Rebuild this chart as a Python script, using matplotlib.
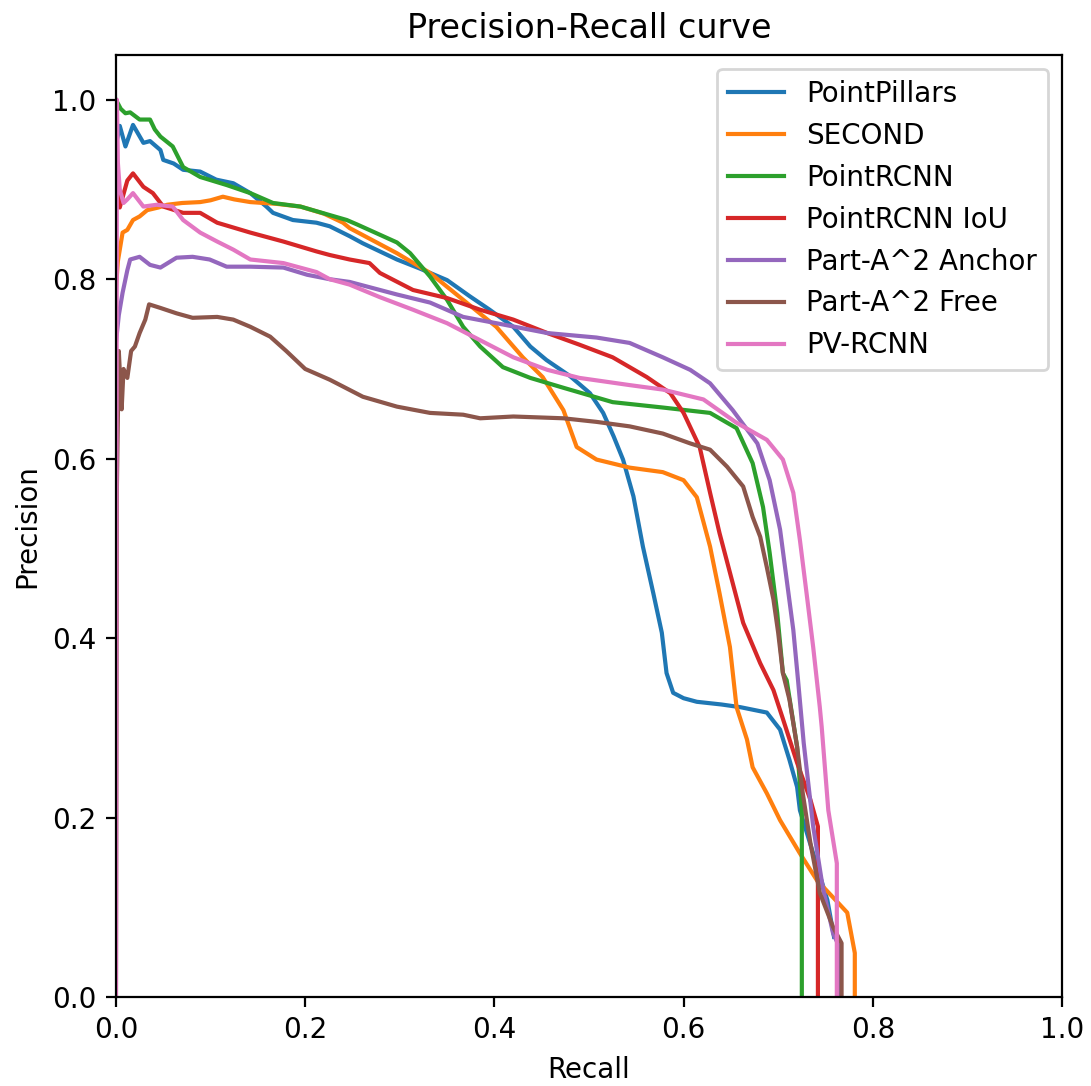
import matplotlib
matplotlib.use("Agg")
from matplotlib import pyplot as plt

# curve points
pp_r = [0.0, 0.004, 0.01, 0.018, 0.029, 0.036, 0.047, 0.05, 0.061, 0.071, 0.089, 0.106, 0.124, 0.142,
        0.159, 0.166, 0.187, 0.212, 0.226, 0.247, 0.261, 0.297, 0.321, 0.35, 0.374, 0.395, 0.42,
        0.438, 0.455, 0.48, 0.501, 0.515, 0.526, 0.536, 0.547, 0.557, 0.568, 0.577, 0.582, 0.589,
        0.6, 0.614, 0.64, 0.66, 0.688, 0.702, 0.712, 0.72, 0.723, 0.737, 0.752, 0.759]
pp_p = [0.95, 0.971, 0.948, 0.972, 0.952, 0.954, 0.944, 0.933, 0.929, 0.922, 0.92, 0.911, 0.907, 0.896,
        0.881, 0.874, 0.866, 0.863, 0.859, 0.848, 0.84, 0.822, 0.812, 0.799, 0.781, 0.766, 0.747,
        0.725, 0.71, 0.692, 0.673, 0.651, 0.625, 0.599, 0.558, 0.502, 0.45, 0.406, 0.361, 0.339,
        0.333, 0.329, 0.326, 0.323, 0.317, 0.298, 0.264, 0.234, 0.208, 0.16, 0.108, 0.067]

sec_r = [0.0, 0.002, 0.007, 0.012, 0.018, 0.025, 0.033, 0.045, 0.054, 0.07, 0.089, 0.1, 0.113, 0.125,
         0.142, 0.17, 0.195, 0.22, 0.24, 0.247, 0.297, 0.332, 0.367, 0.402, 0.43, 0.451, 0.473, 0.487,
         0.508, 0.543, 0.578, 0.6, 0.614, 0.628, 0.638, 0.649, 0.656, 0.667, 0.673, 0.688, 0.702,
         0.723, 0.741, 0.758, 0.773, 0.781, 0.781]
sec_p = [0.79, 0.82, 0.852, 0.855, 0.866, 0.87, 0.877, 0.88, 0.883, 0.885, 0.886, 0.888, 0.892, 0.889,
         0.886, 0.884, 0.881, 0.873, 0.863, 0.857, 0.829, 0.807, 0.777, 0.747, 0.713, 0.691, 0.654,
         0.613, 0.599, 0.59, 0.585, 0.576, 0.557, 0.502, 0.45, 0.39, 0.323, 0.287, 0.256, 0.227, 0.197,
         0.16, 0.13, 0.111, 0.094, 0.049, 0.0]

prc_r = [0.0, 0.005, 0.01, 0.015, 0.025, 0.036, 0.041, 0.047, 0.06, 0.071, 0.089, 0.117, 0.142, 0.166,
         0.195, 0.244, 0.255, 0.297, 0.311, 0.332, 0.35, 0.367, 0.385, 0.409, 0.438, 0.473, 0.525,
         0.578, 0.628, 0.656, 0.673, 0.684, 0.691, 0.699, 0.705, 0.709, 0.72, 0.725, 0.725]
prc_p = [1.0, 0.99, 0.985, 0.986, 0.978, 0.978, 0.967, 0.959, 0.948, 0.925, 0.914, 0.905, 0.896, 0.885,
         0.881, 0.866, 0.861, 0.841, 0.829, 0.803, 0.777, 0.747, 0.725, 0.702, 0.69, 0.679, 0.663,
         0.657, 0.651, 0.634, 0.595, 0.546, 0.495, 0.428, 0.361, 0.353, 0.279, 0.208, 0.0]

iou_r = [0.0, 0.002, 0.004, 0.008, 0.012, 0.018, 0.029, 0.039, 0.05, 0.071, 0.089, 0.107, 0.142, 0.177,
         0.212, 0.226, 0.247, 0.268, 0.279, 0.314, 0.35, 0.385, 0.42, 0.456, 0.49, 0.525, 0.561, 0.586,
         0.6, 0.617, 0.628, 0.638, 0.649, 0.663, 0.681, 0.695, 0.705, 0.72, 0.734, 0.742, 0.742]
iou_p = [0.92, 0.9, 0.88, 0.895, 0.91, 0.918, 0.903, 0.896, 0.881, 0.874, 0.874, 0.863, 0.852, 0.842,
         0.831, 0.827, 0.822, 0.818, 0.807, 0.788, 0.779, 0.766, 0.755, 0.74, 0.727, 0.713, 0.691, 0.673,
         0.651, 0.613, 0.562, 0.517, 0.473, 0.417, 0.372, 0.342, 0.31, 0.261, 0.22, 0.19, 0.0]

anc_r = [0.0, 0.003, 0.007, 0.012, 0.015, 0.025, 0.036, 0.047, 0.064, 0.081, 0.099, 0.117, 0.142, 0.177,
         0.202, 0.226, 0.247, 0.297, 0.332, 0.367, 0.402, 0.456, 0.508, 0.543, 0.578, 0.607, 0.628,
         0.652, 0.678, 0.691, 0.702, 0.709, 0.716, 0.721, 0.727, 0.737, 0.747, 0.758, 0.765, 0.765]
anc_p = [0.73, 0.76, 0.785, 0.81, 0.822, 0.825, 0.816, 0.813, 0.824, 0.825, 0.822, 0.814, 0.814, 0.813,
         0.805, 0.80, 0.797, 0.783, 0.774, 0.758, 0.751, 0.74, 0.735, 0.729, 0.713, 0.699, 0.684,
         0.654, 0.617, 0.576, 0.521, 0.465, 0.409, 0.353, 0.283, 0.19, 0.123, 0.071, 0.055, 0.0]

free_r = [0.0, 0.001, 0.003, 0.006, 0.008, 0.012, 0.016, 0.02, 0.025, 0.031, 0.035, 0.047, 0.064, 0.081,
          0.107, 0.124, 0.142, 0.163, 0.18, 0.2, 0.226, 0.261, 0.297, 0.332, 0.367, 0.385, 0.42, 0.473,
          0.508, 0.543, 0.578, 0.607, 0.628, 0.646, 0.663, 0.673, 0.681, 0.688, 0.695, 0.7, 0.705,
          0.712, 0.72, 0.726, 0.734, 0.744, 0.758, 0.767, 0.767]
free_p = [0.0, 0.57, 0.72, 0.655, 0.70, 0.69, 0.72, 0.725, 0.74, 0.755, 0.772, 0.768, 0.762, 0.757,
          0.758, 0.755, 0.747, 0.736, 0.72, 0.70, 0.688, 0.669, 0.658, 0.651, 0.649, 0.645, 0.647, 0.645,
          0.641, 0.636, 0.628, 0.617, 0.61, 0.591, 0.569, 0.535, 0.513, 0.479, 0.443, 0.406, 0.361,
          0.331, 0.279, 0.227, 0.172, 0.116, 0.078, 0.06, 0.0]

pv_r = [0.0, 0.001, 0.002, 0.004, 0.008, 0.012, 0.018, 0.029, 0.043, 0.06, 0.071, 0.089, 0.107, 0.124,
        0.142, 0.177, 0.212, 0.226, 0.247, 0.279, 0.314, 0.35, 0.385, 0.42, 0.456, 0.49, 0.543, 0.578,
        0.621, 0.656, 0.688, 0.705, 0.716, 0.723, 0.73, 0.737, 0.744, 0.746, 0.753, 0.762, 0.762]
pv_p = [0.0, 1.0, 0.93, 0.9, 0.885, 0.889, 0.896, 0.881, 0.883, 0.881, 0.866, 0.852, 0.842, 0.833,
        0.822, 0.818, 0.808, 0.80, 0.794, 0.78, 0.766, 0.751, 0.732, 0.713, 0.699, 0.69, 0.682, 0.677,
        0.666, 0.64, 0.621, 0.599, 0.562, 0.509, 0.45, 0.39, 0.323, 0.301, 0.208, 0.149, 0.0]

names = ["PointPillars", "SECOND", "PointRCNN", "PointRCNN IoU",
         "Part-A^2 Anchor", "Part-A^2 Free", "PV-RCNN"]
curves = [(pp_r, pp_p), (sec_r, sec_p), (prc_r, prc_p), (iou_r, iou_p),
          (anc_r, anc_p), (free_r, free_p), (pv_r, pv_p)]

fig = plt.figure(figsize=(1091 / 200, 1086 / 200), dpi=200)
ax = fig.add_axes([0.1063, 0.082, 0.8671, 0.8674])
for name, (r, p) in zip(names, curves):
    ax.plot(r, p, label=name)

ax.set_xlim(0, 1)
ax.set_ylim(0, 1.05)
ax.set_title("Precision-Recall curve")
ax.set_xlabel("Recall")
ax.set_ylabel("Precision")
ax.legend(loc="upper right")
fig.savefig("out.png", dpi=200)
